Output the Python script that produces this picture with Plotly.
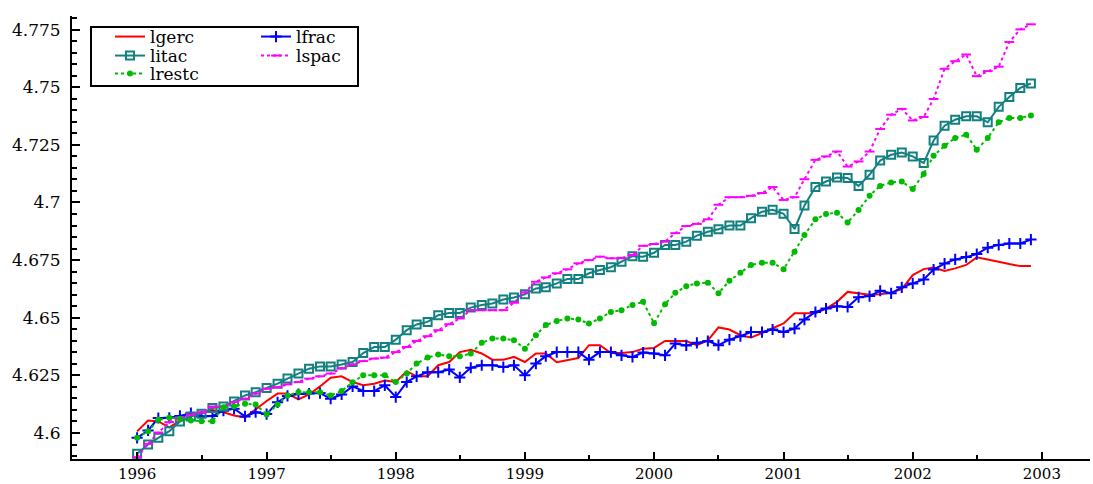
import pandas as pd
import plotly.graph_objects as go

dates = pd.date_range("1996-01-01", periods=84, freq="MS")

lgerc = [4.6007, 4.6054, 4.6050, 4.6024, 4.6052, 4.6072, 4.6085, 4.6100, 4.6090, 4.6076, 4.6067, 4.6102,
         4.6139, 4.6171, 4.6171, 4.6146, 4.6167, 4.6202, 4.6240, 4.6246, 4.6221, 4.6207, 4.6214, 4.6228,
         4.6221, 4.6268, 4.6246, 4.6246, 4.6294, 4.6308, 4.6351, 4.6361, 4.6345, 4.6318, 4.6318, 4.6330,
         4.6308, 4.6345, 4.6345, 4.6307, 4.6315, 4.6325, 4.6381, 4.6381, 4.6347, 4.6347, 4.6351, 4.6366,
         4.6369, 4.6399, 4.6399, 4.6399, 4.6381, 4.6402, 4.6458, 4.6449, 4.6424, 4.6414, 4.6434, 4.6453,
         4.6475, 4.6519, 4.6519, 4.6519, 4.6540, 4.6569, 4.6612, 4.6605, 4.6600, 4.6602, 4.6609, 4.6624,
         4.6685, 4.6711, 4.6718, 4.6703, 4.6714, 4.6729, 4.6762, 4.6753, 4.6742, 4.6733, 4.6724, 4.6724]

lfrac = [4.5979, 4.6011, 4.6065, 4.6066, 4.6074, 4.6086, 4.6072, 4.6074, 4.6097, 4.6105, 4.6072, 4.6090,
         4.6082, 4.6133, 4.6161, 4.6169, 4.6171, 4.6173, 4.6149, 4.6167, 4.6202, 4.6182, 4.6182, 4.6207,
         4.6156, 4.6221, 4.6246, 4.6264, 4.6264, 4.6275, 4.6241, 4.6283, 4.6294, 4.6294, 4.6286, 4.6294,
         4.6250, 4.6301, 4.6333, 4.6351, 4.6351, 4.6351, 4.6318, 4.6351, 4.6351, 4.6337, 4.6330, 4.6349,
         4.6345, 4.6337, 4.6388, 4.6380, 4.6391, 4.6399, 4.6381, 4.6405, 4.6420, 4.6438, 4.6438, 4.6449,
         4.6438, 4.6453, 4.6492, 4.6525, 4.6540, 4.6550, 4.6547, 4.6589, 4.6594, 4.6617, 4.6606, 4.6632,
         4.6649, 4.6666, 4.6709, 4.6735, 4.6753, 4.6763, 4.6776, 4.6804, 4.6816, 4.6822, 4.6822, 4.6839]

litac = [4.5910, 4.5950, 4.5979, 4.6008, 4.6050, 4.6072, 4.6084, 4.6108, 4.6115, 4.6137, 4.6163, 4.6177,
         4.6195, 4.6214, 4.6236, 4.6258, 4.6279, 4.6289, 4.6289, 4.6297, 4.6308, 4.6347, 4.6373, 4.6373,
         4.6405, 4.6446, 4.6471, 4.6482, 4.6511, 4.6521, 4.6521, 4.6544, 4.6555, 4.6562, 4.6579, 4.6588,
         4.6602, 4.6627, 4.6632, 4.6649, 4.6668, 4.6668, 4.6693, 4.6707, 4.6719, 4.6743, 4.6767, 4.6765,
         4.6782, 4.6816, 4.6816, 4.6830, 4.6856, 4.6873, 4.6884, 4.6900, 4.6900, 4.6932, 4.6960, 4.6968,
         4.6951, 4.6885, 4.6987, 4.7067, 4.7091, 4.7108, 4.7106, 4.7072, 4.7120, 4.7182, 4.7207, 4.7217,
         4.7200, 4.7171, 4.7269, 4.7333, 4.7359, 4.7374, 4.7374, 4.7348, 4.7415, 4.7458, 4.7497, 4.7516]

lspac = [4.5895, 4.5953, 4.6002, 4.6047, 4.6066, 4.6080, 4.6090, 4.6115, 4.6115, 4.6134, 4.6149, 4.6171,
         4.6192, 4.6199, 4.6211, 4.6221, 4.6236, 4.6246, 4.6258, 4.6281, 4.6298, 4.6312, 4.6323, 4.6327,
         4.6351, 4.6373, 4.6399, 4.6420, 4.6446, 4.6472, 4.6497, 4.6533, 4.6533, 4.6533, 4.6533, 4.6565,
         4.6610, 4.6656, 4.6675, 4.6693, 4.6710, 4.6736, 4.6750, 4.6765, 4.6758, 4.6758, 4.6772, 4.6812,
         4.6820, 4.6830, 4.6867, 4.6898, 4.6907, 4.6927, 4.6990, 4.7023, 4.7023, 4.7029, 4.7041, 4.7067,
         4.7011, 4.7023, 4.7101, 4.7185, 4.7200, 4.7221, 4.7156, 4.7178, 4.7221, 4.7319, 4.7381, 4.7406,
         4.7356, 4.7371, 4.7449, 4.7580, 4.7613, 4.7642, 4.7548, 4.7570, 4.7589, 4.7696, 4.7751, 4.7773]

lrestc = [4.5979, 4.6008, 4.6057, 4.6066, 4.6062, 4.6054, 4.6051, 4.6051, 4.6112, 4.6115, 4.6127, 4.6124,
          4.6080, 4.6124, 4.6163, 4.6177, 4.6177, 4.6177, 4.6163, 4.6182, 4.6220, 4.6250, 4.6250, 4.6250,
          4.6221, 4.6258, 4.6301, 4.6327, 4.6341, 4.6333, 4.6333, 4.6345, 4.6391, 4.6410, 4.6410, 4.6402,
          4.6366, 4.6424, 4.6468, 4.6486, 4.6497, 4.6492, 4.6475, 4.6497, 4.6525, 4.6533, 4.6555, 4.6569,
          4.6476, 4.6559, 4.6608, 4.6637, 4.6649, 4.6652, 4.6606, 4.6660, 4.6695, 4.6729, 4.6739, 4.6739,
          4.6710, 4.6786, 4.6859, 4.6927, 4.6950, 4.6956, 4.6913, 4.6967, 4.7029, 4.7072, 4.7087, 4.7091,
          4.7058, 4.7124, 4.7203, 4.7246, 4.7280, 4.7294, 4.7229, 4.7280, 4.7348, 4.7367, 4.7367, 4.7377]

ytick_vals = [4.6, 4.625, 4.65, 4.675, 4.7, 4.725, 4.75, 4.775]
ytick_text = ["4.6", "4.625", "4.65", "4.675", "4.7", "4.725", "4.75", "4.775"]

FONT = "DejaVu Serif"
fig = go.Figure()

fig.add_trace(go.Scatter(x=dates, y=lgerc, name="lgerc", mode="lines",
                         line=dict(color="#FF0000", width=2), legend="legend"))
fig.add_trace(go.Scatter(x=dates, y=lfrac, name="lfrac", mode="lines+markers",
                         line=dict(color="#0000FF", width=2),
                         marker=dict(symbol="cross-thin", size=8, line=dict(color="#0000FF", width=2)),
                         legend="legend2"))
fig.add_trace(go.Scatter(x=dates, y=litac, name="litac", mode="lines+markers",
                         line=dict(color="#138080", width=2),
                         marker=dict(symbol="square-open", size=8, color="#138080",
                                     line=dict(color="#138080", width=2)),
                         legend="legend3"))
fig.add_trace(go.Scatter(x=dates, y=lspac, name="lspac", mode="lines+markers",
                         line=dict(color="#FF00FF", width=2, dash="dot"),
                         marker=dict(symbol="line-ew", size=7, line=dict(color="#FF00FF", width=2)),
                         legend="legend4"))
fig.add_trace(go.Scatter(x=dates, y=lrestc, name="lrestc", mode="lines+markers",
                         line=dict(color="#00BB00", width=2, dash="dot"),
                         marker=dict(symbol="circle", size=6, color="#00BB00"),
                         legend="legend5"))

L, R, T, B = 72, 3, 16, 25
W, H = 1093, 484
pw, ph = W - L - R, H - T - B

def px_x(p):
    return (p - L) / pw

def px_y(p):
    return (H - B - p) / ph

def leg(xp, yp):
    return dict(x=px_x(xp), y=px_y(yp), xanchor="left", yanchor="middle",
                bgcolor="rgba(0,0,0,0)", borderwidth=0,
                font=dict(family=FONT, size=17, color="black"))

fig.update_layout(
    width=W, height=H,
    showlegend=True,
    margin=dict(l=L, r=R, t=T, b=B, autoexpand=False),
    paper_bgcolor="white", plot_bgcolor="white",
    font=dict(family=FONT, size=17, color="black"),
    legend=leg(110, 37),
    legend2=leg(256, 37),
    legend3=leg(110, 56),
    legend4=leg(256, 56),
    legend5=leg(110, 74),
    shapes=[dict(type="rect", xref="paper", yref="paper",
                 x0=px_x(91), x1=px_x(358), y0=px_y(86), y1=px_y(27),
                 line=dict(color="black", width=2), fillcolor="rgba(0,0,0,0)")],
    xaxis=dict(type="date", range=["1995-07-01", "2003-05-17"],
               tick0="1996-01-01", dtick="M12", tickformat="%Y",
               showline=True, linecolor="black", linewidth=2,
               ticks="inside", ticklen=7, tickwidth=2, tickcolor="black",
               minor=dict(dtick="M6", ticks="inside", ticklen=4, tickwidth=2, tickcolor="black"),
               showgrid=False, zeroline=False,
               tickfont=dict(family=FONT, size=15, color="black")),
    yaxis=dict(range=[4.58872, 4.7809],
               tickmode="array", tickvals=ytick_vals, ticktext=ytick_text,
               showline=True, linecolor="black", linewidth=2,
               ticks="inside", ticklen=8, tickwidth=2, tickcolor="black",
               minor=dict(dtick=0.005, tick0=4.6, ticks="inside", ticklen=5, tickwidth=2, tickcolor="black"),
               showgrid=False, zeroline=False, ticklabelstandoff=6,
               tickfont=dict(family=FONT, size=17, color="black")),
)

fig.write_html("out.html")
